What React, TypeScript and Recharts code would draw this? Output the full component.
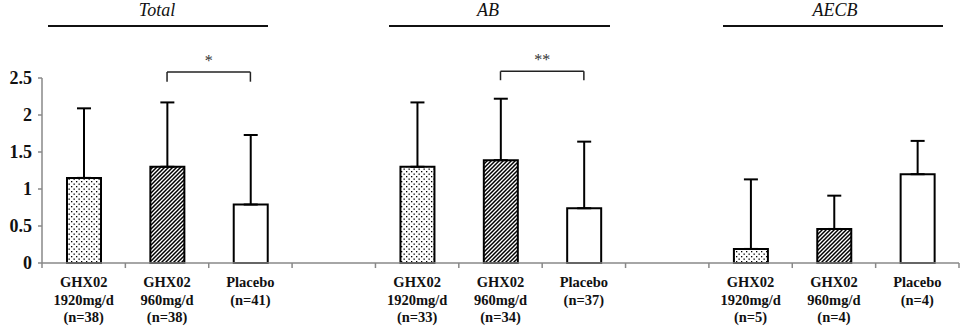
import React from 'react';
import { BarChart, Bar, XAxis, YAxis, ErrorBar, Cell, ReferenceLine, Label } from 'recharts';

// one slot per band on the x axis, two empty slots separate the groups
const categories = ['t1', 't2', 't3', 'g1', 'a1', 'a2', 'a3', 'g2', 'e1', 'e2', 'e3'];
const tickLabels: string[][] = [
  ['GHX02', '1920mg/d', '(n=38)'],
  ['GHX02', '960mg/d', '(n=38)'],
  ['Placebo', '(n=41)'],
  [],
  ['GHX02', '1920mg/d', '(n=33)'],
  ['GHX02', '960mg/d', '(n=34)'],
  ['Placebo', '(n=37)'],
  [],
  ['GHX02', '1920mg/d', '(n=5)'],
  ['GHX02', '960mg/d', '(n=4)'],
  ['Placebo', '(n=4)'],
];
const arms = ['1920', '960', 'placebo', null, '1920', '960', 'placebo', null, '1920', '960', 'placebo'];
const means = [1.15, 1.3, 0.79, null, 1.3, 1.39, 0.74, null, 0.19, 0.46, 1.2];
const sds = [0.94, 0.87, 0.94, null, 0.87, 0.83, 0.9, null, 0.94, 0.45, 0.45];
const yTicks = [0, 0.5, 1, 1.5, 2, 2.5];

const groupTitles = ['Total', 'AB', 'AECB'];

const brackets = [
  { from: 't2', to: 't3', y: 2.58, foot: 2.45, mark: '*' },
  { from: 'a2', to: 'a3', y: 2.59, foot: 2.47, mark: '**' },
];

const armFill: Record<string, string> = {
  '1920': 'url(#dots)',
  '960': 'url(#hatch)',
  placebo: '#ffffff',
};

const data = categories.map((key, i) => ({
  key,
  mean: means[i],
  err: sds[i] == null ? undefined : [0, sds[i]],
}));

const serif = '"Liberation Serif", "Times New Roman", serif';
const TICK_DEPTH = -0.068; // boundary tick length, in y units below zero

// header positions (titles sit above the plot, outside the chart area)
const headerLayout = [
  { cx: 157, x1: 48, x2: 268 },
  { cx: 488, x1: 389, x2: 610 },
  { cx: 835, x1: 723, x2: 943 },
];

const CategoryTick = (props: any) => {
  const { x, y, payload } = props;
  const idx = categories.indexOf(payload.value);
  const lines = tickLabels[idx] || [];
  return (
    <text
      x={x}
      y={y + 24}
      textAnchor="middle"
      fill="#111"
      fontFamily={serif}
      fontWeight="bold"
      fontSize={14.5}
    >
      {lines.map((l, i) => (
        <tspan key={i} x={x} dy={i === 0 ? 0 : 17.5}>
          {l}
        </tspan>
      ))}
    </text>
  );
};

export default function App() {
  return (
    <div style={{ position: 'absolute', left: 0, top: 0, width: 962, height: 326, background: '#fff' }}>
      {groupTitles.map((t, i) => (
        <React.Fragment key={t}>
          <div
            style={{
              position: 'absolute',
              left: headerLayout[i].cx - 60,
              width: 120,
              top: 1,
              textAlign: 'center',
              fontFamily: serif,
              fontStyle: 'italic',
              fontSize: 18,
              lineHeight: '18px',
              color: '#111',
            }}
          >
            {t}
          </div>
          <div
            style={{
              position: 'absolute',
              left: headerLayout[i].x1,
              width: headerLayout[i].x2 - headerLayout[i].x1,
              top: 25,
              borderTop: '2px solid #111',
            }}
          />
        </React.Fragment>
      ))}
      <BarChart
        width={962}
        height={326}
        data={data}
        margin={{ top: 78, right: 3, left: 0, bottom: 0 }}
        barSize={34}
      >
        <defs>
          <pattern id="dots" patternUnits="userSpaceOnUse" width="5" height="5">
            <rect width="5" height="5" fill="#fff" />
            <rect x="1" y="1" width="1.3" height="1.3" fill="#000" />
            <rect x="3.5" y="3.5" width="1.3" height="1.3" fill="#000" />
          </pattern>
          <pattern id="hatch" patternUnits="userSpaceOnUse" width="4" height="4">
            <rect width="4" height="4" fill="#fff" />
            <path d="M-1,1 l2,-2 M0,4 l4,-4 M3,5 l2,-2" stroke="#000" strokeWidth="1.5" />
          </pattern>
        </defs>
        <XAxis
          dataKey="key"
          height={63}
          interval={0}
          tickLine={false}
          tickSize={0}
          tickMargin={0}
          axisLine={{ stroke: '#888', strokeWidth: 1.5 }}
          tick={<CategoryTick />}
        />
        <YAxis
          width={42}
          domain={[0, 2.5]}
          ticks={yTicks}
          interval={0}
          tickSize={4}
          tickMargin={6}
          axisLine={{ stroke: '#888', strokeWidth: 1.5 }}
          tickLine={{ stroke: '#888', strokeWidth: 1.5 }}
          tick={{ fill: '#111', fontFamily: serif, fontWeight: 'bold', fontSize: 18 }}
        />
        {categories.map((c) => (
          <ReferenceLine
            key={'edge-' + c}
            segment={[{ x: c, y: 0 }, { x: c, y: TICK_DEPTH }]}
            position="start"
            stroke="#888"
            strokeWidth={1.5}
            ifOverflow="visible"
          />
        ))}
        <ReferenceLine
          segment={[
            { x: categories[categories.length - 1], y: 0 },
            { x: categories[categories.length - 1], y: TICK_DEPTH },
          ]}
          position="end"
          stroke="#888"
          strokeWidth={1.5}
          ifOverflow="visible"
        />
        <Bar dataKey="mean" stroke="#000" strokeWidth={2} isAnimationActive={false}>
          {data.map((d, i) => (
            <Cell key={d.key} fill={arms[i] ? armFill[arms[i] as string] : '#fff'} />
          ))}
          <ErrorBar dataKey="err" direction="y" width={7} stroke="#000" strokeWidth={2} />
        </Bar>
        {brackets.map((b) => (
          <React.Fragment key={b.from}>
            <ReferenceLine
              segment={[{ x: b.from, y: b.y }, { x: b.to, y: b.y }]}
              stroke="#222"
              strokeWidth={1.5}
              ifOverflow="visible"
            >
              <Label value={b.mark} position="top" offset={6} fill="#333" fontSize={16} fontFamily={serif} />
            </ReferenceLine>
            <ReferenceLine
              segment={[{ x: b.from, y: b.y }, { x: b.from, y: b.foot }]}
              stroke="#222"
              strokeWidth={1.5}
              ifOverflow="visible"
            />
            <ReferenceLine
              segment={[{ x: b.to, y: b.y }, { x: b.to, y: b.foot }]}
              stroke="#222"
              strokeWidth={1.5}
              ifOverflow="visible"
            />
          </React.Fragment>
        ))}
      </BarChart>
    </div>
  );
}
